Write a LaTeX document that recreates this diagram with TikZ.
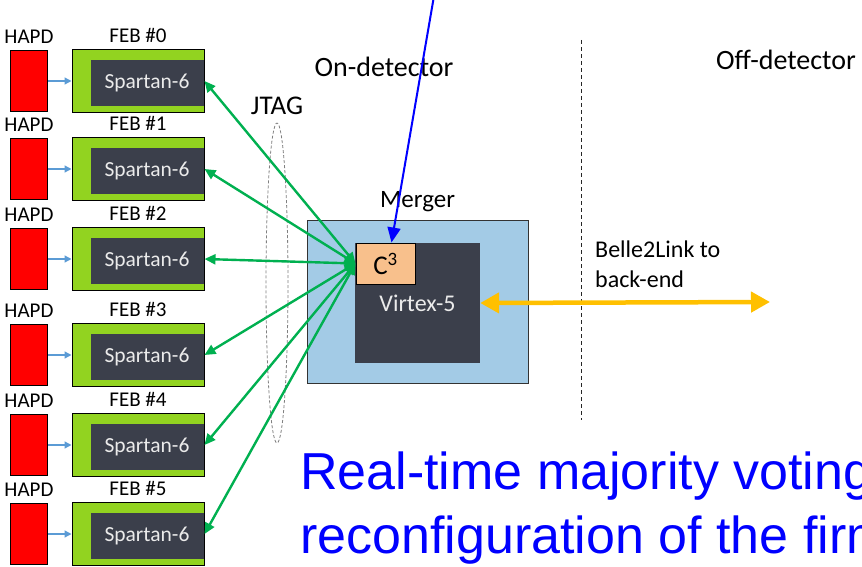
\documentclass[tikz,border=0pt]{standalone}
\usepackage{fontspec}
\setmainfont{Carlito}
\newfontfamily\arialfont{Liberation Sans}
\usetikzlibrary{arrows.meta, shapes.geometric}

\definecolor{hapdred}{HTML}{FF0000}
\definecolor{febgreen}{HTML}{92D320}
\definecolor{chipgray}{HTML}{3B3F4B}
\definecolor{mergerblue}{HTML}{A3CBE6}
\definecolor{cccorange}{HTML}{F8C08C}
\definecolor{jtaggreen}{HTML}{00B050}
\definecolor{linkyellow}{HTML}{FFC000}
\definecolor{hitblue}{HTML}{5B9BD5}

\tikzset{
  lbl/.style={font=\fontsize{21}{25}\selectfont, inner sep=0pt},
  head/.style={font=\fontsize{28}{32}\selectfont, inner sep=0pt},
  hapd/.style={draw=black, line width=1pt, fill=hapdred, minimum width=37pt, minimum height=61pt, inner sep=0pt},
  feb/.style={draw=black, line width=1pt, fill=febgreen, minimum width=132pt, minimum height=63pt, inner sep=0pt},
  chip/.style={fill=chipgray, text=white!92!black, inner sep=0pt},
  hit/.style={hitblue, line width=1.3pt, -{Triangle[length=7pt,width=7pt]}},
  jtag/.style={jtaggreen, line width=2.4pt, {Triangle[length=11pt,width=10pt]}-{Triangle[length=11pt,width=10pt]}},
  link/.style={linkyellow, line width=4.5pt, {Triangle[length=19pt,width=20pt]}-{Triangle[length=19pt,width=20pt]}},
  pointer/.style={blue, line width=2pt, -{Triangle[length=15pt,width=13pt]}}
}

\begin{document}
\begin{tikzpicture}[x=1pt, y=-1pt]
  \useasboundingbox (0,0) rectangle (862,567);
  \clip (0,0) rectangle (862,567);

  % front-end boards
  \foreach \i/\y in {0/50,1/138,2/228,3/324,4/414,5/503}{
    \node[hapd, label={[lbl, label distance=6pt]above:HAPD}] (hapd\i) at (29,\y+31) {};
    \node[feb, label={[lbl, label distance=6pt]above:FEB \#\i}] (feb\i) at (138,\y+31) {};
    \node[chip, minimum width=113pt, minimum height=46pt, font=\fontsize{21.5}{25}\selectfont] (sp\i) at (147,\y+33) {Spartan-6};
    \draw[hit] (hapd\i) -- (feb\i);
  }

  % JTAG bundle
  \node[draw=gray, dashed, dash pattern=on 3pt off 2pt, line width=0.8pt, ellipse,
        minimum width=22pt, minimum height=320pt, inner sep=0pt,
        label={[head, font=\fontsize{27}{30}\selectfont, label distance=8pt]above:JTAG}] (jtagring) at (277,283) {};

  % merger board
  \node[draw=black!80, line width=1pt, fill=mergerblue, minimum width=221pt, minimum height=163pt,
        label={[head, font=\fontsize{25}{30}\selectfont, label distance=8pt]above:Merger}] (merger) at (417.5,301.5) {};
  \node[chip, minimum width=125pt, minimum height=120pt, font=\fontsize{24}{28}\selectfont] (v5) at (417.5,303) {Virtex-5};
  \node[draw=black, line width=1pt, fill=cccorange, minimum width=59pt, minimum height=41pt, inner sep=0pt,
        font=\fontsize{27}{30}\selectfont] (c3) at (385.5,263.5) {C\textsuperscript{3}};

  \foreach \i in {0,...,5}
    \draw[jtag] (c3.west) -- (feb\i.east);

  % detector boundary
  \draw[black!85, line width=1pt, dash pattern=on 4pt off 3pt] (581,40) -- (581,420);
  \node[head] (ondet) at (384,67) {On-detector};
  \node[head] (offdet) at (786,60) {Off-detector};

  % link to back-end
  \coordinate (backend) at (770,302);
  \draw[link] (v5.east) -- (backend);
  \node[lbl, font=\fontsize{24}{30}\selectfont, align=left, anchor=north west] (b2l) at (595,241) {Belle2Link to\\back-end};

  % annotation
  \coordinate (src) at (434,-4);
  \draw[pointer] (src) -- ([xshift=6pt]c3.north);
  \node[anchor=north west, inner sep=0pt, align=left, text=blue,
        font=\arialfont\fontsize{52}{64}\selectfont] (note) at (300,452)
        {Real-time majority voting\\reconfiguration of the firmware};
\end{tikzpicture}
\end{document}
